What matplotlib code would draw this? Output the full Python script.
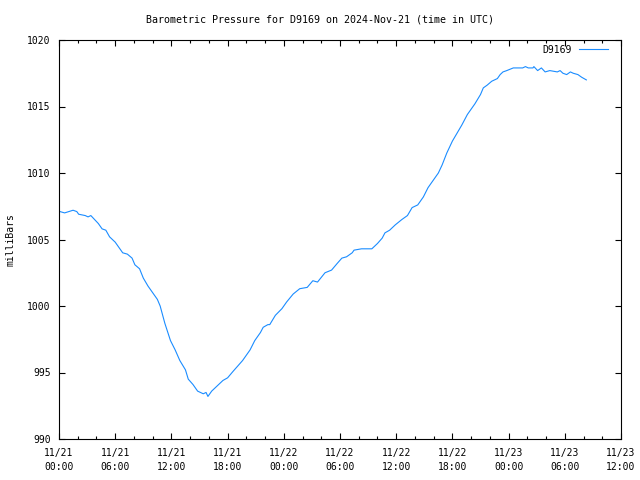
import datetime as dt
import matplotlib
matplotlib.use('Agg')
import matplotlib.pyplot as plt
import matplotlib.dates as mdates

plt.rcParams['font.family'] = ['DejaVu Sans Mono']

# hours since 2024-11-21 00:00 UTC and pressure in millibars
hours = [0.1, 0.6, 1.5, 1.9, 2.1, 2.8, 3.1, 3.4, 3.8, 4.2, 4.6, 5.0, 5.4, 6.0,
         6.3, 6.8, 7.3, 7.8, 8.1, 8.6, 9.0, 9.5, 10.0, 10.5, 10.8, 11.3, 11.9,
         12.4, 12.9, 13.5, 13.8, 14.3, 14.8, 15.4, 15.7, 15.9, 16.3, 16.9, 17.5,
         18.0, 18.6, 19.1, 19.6, 20.4, 20.9, 21.5, 21.8, 22.3, 22.5, 23.1, 23.8,
         24.3, 25.0, 25.7, 26.5, 27.1, 27.6, 28.4, 29.1, 29.7, 30.2, 30.7, 31.3,
         31.5, 32.3, 33.4, 34.0, 34.5, 34.8, 35.3, 35.9, 36.6, 37.2, 37.7, 38.3,
         38.9, 39.4, 39.9, 40.5, 40.9, 41.4, 42.0, 42.5, 43.0, 43.6, 43.9, 44.4,
         45.0, 45.3, 45.7, 46.2, 46.8, 47.1, 47.4, 47.8, 48.5, 49.5, 49.8, 50.1,
         50.6, 50.7, 51.1, 51.5, 51.9, 52.4, 53.2, 53.5, 53.8, 54.2, 54.6, 54.9,
         55.4, 55.8, 56.3]
pressure = [1007.1, 1007.0, 1007.2, 1007.1, 1006.9, 1006.8, 1006.7, 1006.8,
            1006.5, 1006.2, 1005.8, 1005.7, 1005.2, 1004.8, 1004.5, 1004.0,
            1003.9, 1003.6, 1003.1, 1002.8, 1002.1, 1001.5, 1001.0, 1000.5,
            1000.0, 998.7, 997.4, 996.7, 995.9, 995.2, 994.5, 994.1, 993.6,
            993.4, 993.5, 993.2, 993.6, 994.0, 994.4, 994.6, 995.1, 995.5,
            995.9, 996.7, 997.4, 998.0, 998.4, 998.6, 998.6, 999.3, 999.8,
            1000.3, 1000.9, 1001.3, 1001.4, 1001.9, 1001.8, 1002.5, 1002.7,
            1003.2, 1003.6, 1003.7, 1004.0, 1004.2, 1004.3, 1004.3, 1004.7,
            1005.1, 1005.5, 1005.7, 1006.1, 1006.5, 1006.8, 1007.4, 1007.6,
            1008.2, 1008.9, 1009.4, 1010.0, 1010.6, 1011.5, 1012.4, 1013.0,
            1013.6, 1014.4, 1014.7, 1015.2, 1015.9, 1016.4, 1016.6, 1016.9,
            1017.1, 1017.4, 1017.6, 1017.7, 1017.9, 1017.9, 1018.0, 1017.9,
            1017.9, 1018.0, 1017.7, 1017.9, 1017.6, 1017.7, 1017.6, 1017.7,
            1017.5, 1017.4, 1017.6, 1017.5, 1017.4, 1017.2, 1017.0]

start = dt.datetime(2024, 11, 21, 0, 0)
times = [start + dt.timedelta(hours=h) for h in hours]

fig = plt.figure(figsize=(6.4, 4.8), dpi=100)
ax = fig.add_axes([59 / 640, 41 / 480, 562 / 640, 399 / 480])

ax.plot(times, pressure, color='#1a8cff', linewidth=0.8, label='D9169')

ax.set_xlim(start, start + dt.timedelta(hours=60))
ax.set_ylim(990, 1020)
ax.set_yticks(range(990, 1021, 5))
ax.xaxis.set_major_locator(mdates.HourLocator(byhour=[0, 6, 12, 18]))
ax.xaxis.set_minor_locator(mdates.HourLocator(interval=2))
ax.xaxis.set_major_formatter(mdates.DateFormatter('%m/%d\n%H:%M'))

ax.tick_params(which='both', direction='in', top=True, right=True,
               labelsize=7, width=0.8)
ax.tick_params(which='major', length=4)
ax.tick_params(axis='x', which='major', pad=6.5)
ax.tick_params(axis='y', which='major', pad=6)
ax.tick_params(which='minor', length=2)
for lab in ax.get_xticklabels():
    lab.set_linespacing(1.5)
for s in ax.spines.values():
    s.set_linewidth(0.8)

ax.set_ylabel('milliBars', fontsize=7)
ax.yaxis.set_label_coords(-43 / 562, 0.5)
fig.text(0.5, 1 - 20 / 480, 'Barometric Pressure for D9169 on 2024-Nov-21 (time in UTC)',
         ha='center', va='center', fontsize=7.2)
ax.legend(loc='upper right', frameon=False, markerfirst=False, fontsize=7,
          handlelength=3, borderaxespad=0.5,
          bbox_to_anchor=(1 - 4 / 562, 1 + 4 / 399))

fig.savefig('out.png', dpi=100)
